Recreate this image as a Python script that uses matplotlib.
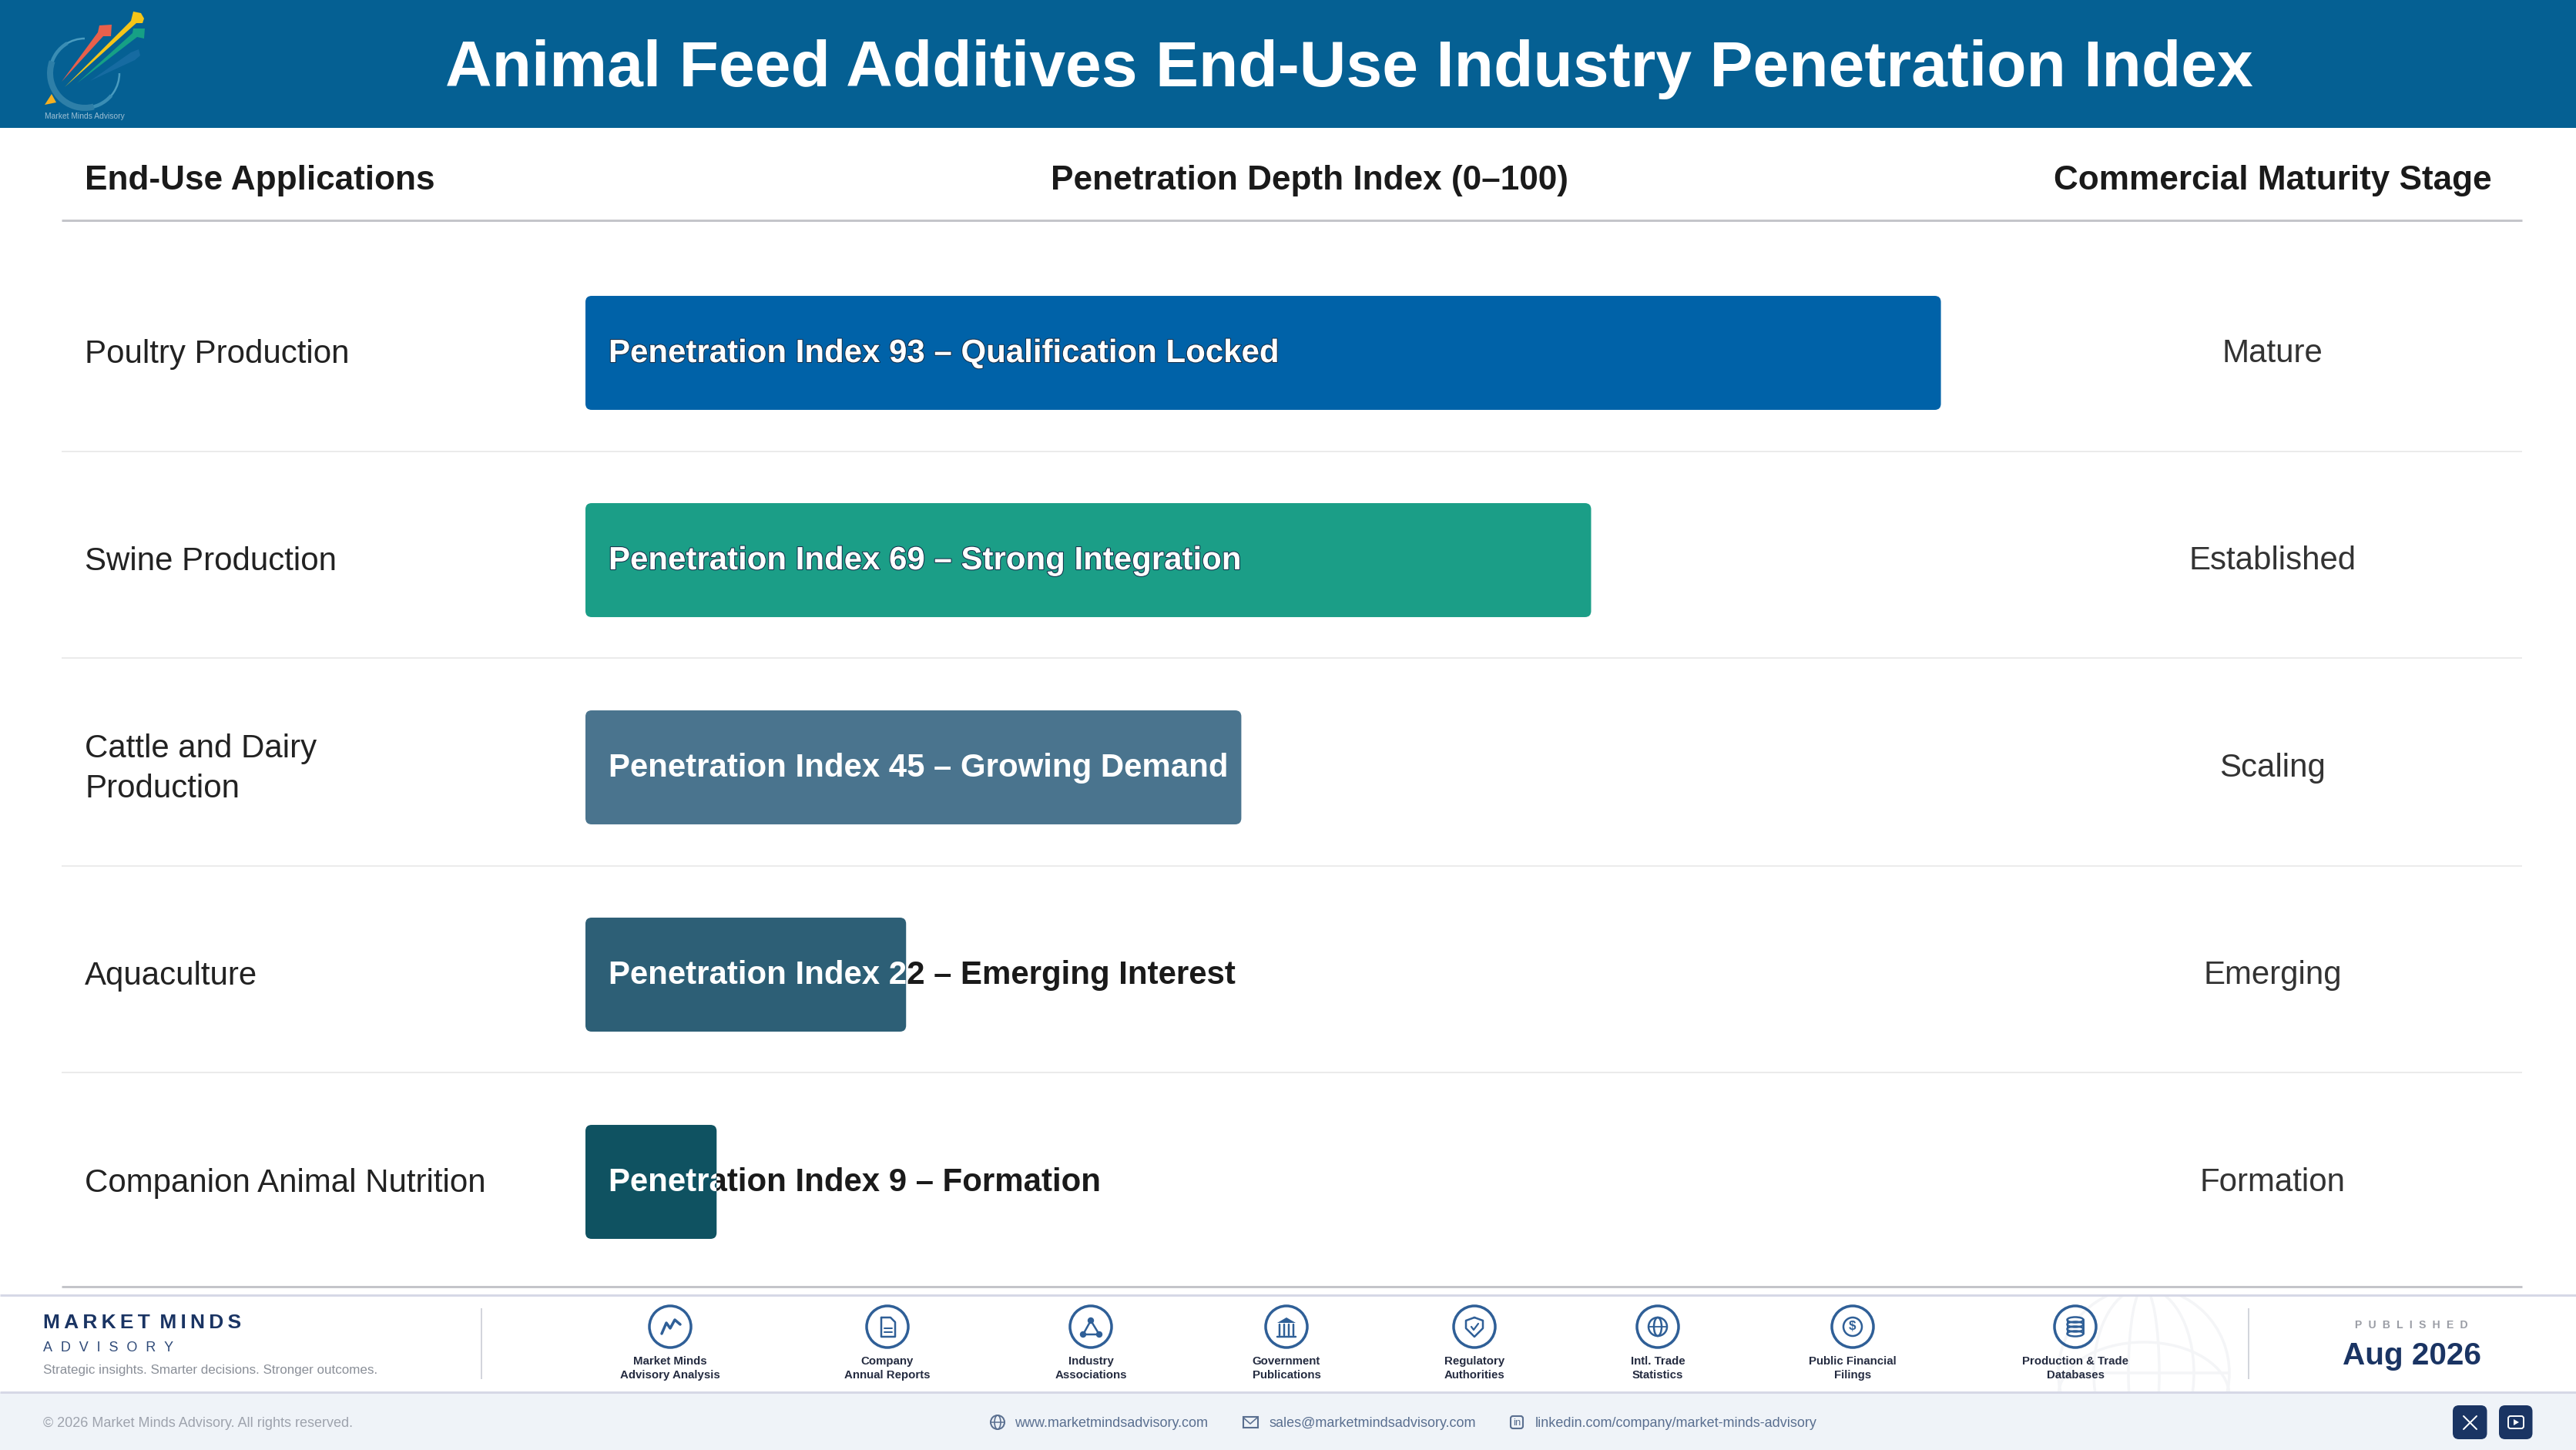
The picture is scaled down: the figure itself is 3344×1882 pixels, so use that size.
"""
Animal Feed Additives penetration index slide.
Page furniture is drawn on a full-figure axes in pixel coordinates,
the bars on their own axes with a 0-100 scale.
"""

import matplotlib
matplotlib.use("Agg")
import matplotlib.pyplot as plt
import matplotlib.patches as mpatches
import matplotlib.patheffects as pe
from matplotlib.transforms import Bbox, TransformedBbox

plt.rcParams["font.family"] = ["Liberation Sans", "DejaVu Sans"]

# ── Data ──────────────────────────────────────────────────────────────────────
APPLICATIONS = ["Poultry Production", "Swine Production", "Cattle and Dairy\nProduction",
                "Aquaculture", "Companion Animal Nutrition"]
INDEX_VALUES = [93, 69, 45, 22, 9]
INDEX_NOTES = ["Qualification Locked", "Strong Integration", "Growing Demand",
               "Emerging Interest", "Formation"]
STAGES = ["Mature", "Established", "Scaling", "Emerging", "Formation"]
BAR_COLORS = ["#0062a8", "#1b9e87", "#4a748e", "#2d5f76", "#0f5261"]

SOURCES = ["Market Minds\nAdvisory Analysis", "Company\nAnnual Reports", "Industry\nAssociations",
           "Government\nPublications", "Regulatory\nAuthorities", "Intl. Trade\nStatistics",
           "Public Financial\nFilings", "Production & Trade\nDatabases"]
SOURCE_X = [870, 1152, 1416, 1670, 1914, 2152, 2405, 2694]

W, H = 3344, 1882
NAVY = "#1a3463"
ICON = "#2f5f97"
TS = "\u2009"  # thin space, stands in for letter spacing


def px(size):
    # font size given in image pixels
    return size * 0.72


fig = plt.figure(figsize=(W / 100, H / 100), dpi=100, facecolor="white")
ax = fig.add_axes([0, 0, 1, 1])
ax.set_xlim(0, W)
ax.set_ylim(H, 0)
ax.axis("off")


def hline(y, x0, x1, color, lw):
    ax.plot([x0, x1], [y, y], color=color, lw=lw * 0.72, solid_capstyle="butt")


def vline(x, y0, y1, color, lw):
    ax.plot([x, x], [y0, y1], color=color, lw=lw * 0.72, solid_capstyle="butt")


def poly(points, color, alpha=1.0, z=3):
    ax.add_patch(mpatches.Polygon(points, closed=True, facecolor=color, edgecolor="none",
                                  alpha=alpha, zorder=z))


def stroke(points, lw=3.5, color=ICON, z=4):
    xs, ys = zip(*points)
    ax.plot(xs, ys, color=color, lw=lw * 0.72, zorder=z, solid_capstyle="round",
            solid_joinstyle="round")


def ring(cx, cy, r, lw=3.5, color=ICON, z=4):
    ax.add_patch(mpatches.Circle((cx, cy), r, fill=False, edgecolor=color, lw=lw * 0.72, zorder=z))


# ── Header band and logo ──────────────────────────────────────────────────────
ax.add_patch(mpatches.Rectangle((0, 0), W, 166, facecolor="#056093", edgecolor="none", zorder=1))
ax.text(1751, 90, "Animal Feed Additives End-Use Industry Penetration Index", ha="center",
        va="center", color="white", fontweight="bold", fontsize=px(84), zorder=5)

# circle behind the arrows, heavier on the lower left
for theta1, theta2, lw, color in ((0, 270, 2.5, "#4a9cc0"), (40, 240, 4.5, "#3a8db4"), (75, 200, 8, "#2e7fa8")):
    ax.add_patch(mpatches.Arc((110, 95), 90, 90, theta1=theta1, theta2=theta2, color=color,
                              lw=lw * 0.72, zorder=3))
poly([(117, 105), (170, 68), (180, 64), (182, 72), (175, 78)], "#1c6fa6", 0.75)
poly([(100, 108), (172, 43), (173, 37), (188, 37), (187, 50), (178, 48)], "#16a085")
poly([(84, 113), (170, 27), (173, 15), (183, 17), (187, 24), (185, 30), (177, 30)], "#f5c518")
poly([(80, 106), (127, 42), (129, 33), (145, 32), (144, 47), (134, 47)], "#e8604c")
poly([(58, 136), (73, 133), (67, 122)], "#f5b021")
ax.text(110, 151, "Market Minds Advisory", ha="center", va="center", fontsize=px(10.3),
        color="#9fc0d4", zorder=5)

# ── Column heads and rules ────────────────────────────────────────────────────
ax.text(110, 234, "End-Use Applications", va="center", fontweight="bold", fontsize=px(44.2), color="#1a1a1a")
ax.text(1700, 234, "Penetration Depth Index (0–100)", ha="center", va="center", fontweight="bold",
        fontsize=px(44.2), color="#1a1a1a")
ax.text(2950, 234, "Commercial Maturity Stage", ha="center", va="center", fontweight="bold",
        fontsize=px(44.2), color="#1a1a1a")
hline(286, 80, 3274, "#c4c5ca", 3)
for y in (586, 854, 1124, 1392):
    hline(y, 80, 3274, "#ebebeb", 2)
hline(1670, 80, 3274, "#c4c5ca", 3)

# ── Row labels ────────────────────────────────────────────────────────────────
for i, (app, stage) in enumerate(zip(APPLICATIONS, STAGES)):
    y = 458 + 269 * i
    ax.text(110, y + 2, app, va="center", fontsize=px(42), color="#222222", linespacing=1.39)
    ax.text(2950, y + 1, stage, ha="center", va="center", fontsize=px(42), color="#333333")

# ── Bars, on a 0-100 scale ────────────────────────────────────────────────────
bar_ax = fig.add_axes([760 / W, 1 - 1668.5 / H, 1892 / W, 1345 / H])
bar_ax.set_xlim(0, 100)
bar_ax.set_ylim(len(INDEX_VALUES) - 0.5, -0.5)
bar_ax.axis("off")
BAR_HEIGHT = 0.55
x_unit = 1892 / 100  # pixels per index point
y_unit = 269         # pixels per row

fig.canvas.draw()
for i, (value, note, color) in enumerate(zip(INDEX_VALUES, INDEX_NOTES, BAR_COLORS)):
    label = f"Penetration Index {value} – {note}"
    x_text = 30 / x_unit
    y_text = i + 1 / y_unit

    under = bar_ax.text(x_text, y_text, label, va="center", fontweight="bold", fontsize=px(42),
                        color="#1a1a1a", zorder=1)
    bar_end = bar_ax.transData.transform((value, i))[0]
    if under.get_window_extent().x1 <= bar_end:
        under.remove()

    bar_ax.add_patch(mpatches.FancyBboxPatch(
        (0, i - BAR_HEIGHT / 2), value, BAR_HEIGHT,
        boxstyle=f"round,pad=0,rounding_size={8 / x_unit}",
        mutation_aspect=x_unit / y_unit,
        facecolor=color, edgecolor="none", zorder=2))

    over = bar_ax.text(x_text, y_text, label, va="center", fontweight="bold", fontsize=px(42),
                       color="white", zorder=3, clip_on=True)
    over.set_clip_box(TransformedBbox(Bbox([[0, i - BAR_HEIGHT / 2], [value, i + BAR_HEIGHT / 2]]),
                                      bar_ax.transData))
    if value > 50:
        over.set_path_effects([pe.withStroke(linewidth=1.5, foreground="#16304a")])

# ── Footer ────────────────────────────────────────────────────────────────────
ax.add_patch(mpatches.Rectangle((0, 1807), W, H - 1807, facecolor="#eff3f8", edgecolor="none", zorder=1))
hline(1681, 0, W, "#d6d8e6", 3)
hline(1807, 0, W, "#d6d8e6", 3)
vline(625, 1698, 1790, "#d3d5dc", 2)
vline(2919, 1698, 1790, "#d3d5dc", 2)

# watermark globe, cut off by the footer rules
GLOBE = "#f4f5f7"
clip = mpatches.Rectangle((2500, 1683), 500, 123, transform=ax.transData)
for width, height in ((222, 222), (130, 222), (40, 222)):
    e = mpatches.Ellipse((2783, 1782), width, height, fill=False, edgecolor=GLOBE, lw=2.5, zorder=2)
    ax.add_patch(e)
    e.set_clip_path(clip)
e = mpatches.Ellipse((2783, 1812), 222, 140, fill=False, edgecolor=GLOBE, lw=2.5, zorder=2)
ax.add_patch(e)
e.set_clip_path(clip)
hline(1782, 2672, 2894, GLOBE, 3.5)

ax.text(56, 1717, TS.join("MARKET") + TS + " " + TS.join("MINDS"), va="center", fontweight="bold",
        fontsize=px(26.4), color=NAVY, zorder=5)
ax.text(56, 1749, (TS * 3).join("ADVISORY"), va="center", fontsize=px(18), color="#2f4a78", zorder=5)
ax.text(56, 1778, "Strategic insights. Smarter decisions. Stronger outcomes.", va="center",
        fontsize=px(17), color="#8a8f98", zorder=5)

for label, x in zip(SOURCES, SOURCE_X):
    ring(x, 1722, 27)
    ax.text(x, 1776, label, ha="center", va="center", fontweight="bold", fontsize=px(15),
            color="#242b40", linespacing=1.35, zorder=5)

# source icons
cy = 1722
x = SOURCE_X[0]
stroke([(x - 11, cy + 9), (x - 5, cy - 5), (x, cy + 2), (x + 6, cy - 9), (x + 13, cy - 3)])
x = SOURCE_X[1]
stroke([(x - 8, cy - 12), (x + 4, cy - 12), (x + 10, cy - 6), (x + 10, cy + 13), (x - 8, cy + 13), (x - 8, cy - 12)], 2.5)
stroke([(x - 4, cy + 2), (x + 6, cy + 2)], 2)
stroke([(x - 4, cy + 7), (x + 6, cy + 7)], 2)
x = SOURCE_X[2]
stroke([(x, cy - 8), (x - 10, cy + 10), (x + 11, cy + 10), (x, cy - 8)], 2.5)
for dx, dy in ((0, -8), (-10, 10), (11, 10)):
    ax.add_patch(mpatches.Circle((x + dx, cy + dy), 3.5, color=ICON, zorder=5))
x = SOURCE_X[3]
poly([(x - 12, cy - 5), (x, cy - 12), (x + 12, cy - 5)], ICON, z=5)
for dx in (-9, -3, 3, 9):
    stroke([(dx + x, cy - 3), (dx + x, cy + 11)], 2.5)
stroke([(x - 12, cy + 13), (x + 12, cy + 13)], 2.5)
x = SOURCE_X[4]
stroke([(x, cy - 12), (x + 11, cy - 8), (x + 11, cy + 2), (x, cy + 13), (x - 11, cy + 2), (x - 11, cy - 8), (x, cy - 12)], 2.5)
stroke([(x - 4, cy), (x - 1, cy + 4), (x + 5, cy - 4)], 2.2)
x = SOURCE_X[5]
ring(x, cy, 12, 2.5)
ax.add_patch(mpatches.Ellipse((x, cy), 10, 24, fill=False, edgecolor=ICON, lw=1.8, zorder=4))
stroke([(x - 12, cy), (x + 12, cy)], 1.8)
x = SOURCE_X[6]
ring(x, cy, 12, 2.5)
ax.text(x, cy, "$", ha="center", va="center", fontsize=px(17), color=ICON, zorder=5, fontweight="bold")
x = SOURCE_X[7]
for dy in (-9, -3, 3, 9):
    ax.add_patch(mpatches.Ellipse((x, cy + dy), 21, 7, fill=False, edgecolor=ICON, lw=1.8, zorder=4))
stroke([(x - 10.5, cy - 9), (x - 10.5, cy + 9)], 2)
stroke([(x + 10.5, cy - 9), (x + 10.5, cy + 9)], 2)

ax.text(3130, 1720, (TS * 3).join("PUBLISHED"), ha="center", va="center", fontweight="bold",
        fontsize=px(14), color="#9a9da5", zorder=5)
ax.text(3131, 1760, "Aug 2026", ha="center", va="center", fontweight="bold", fontsize=px(40.5),
        color=NAVY, zorder=5)

# contact strip
ax.text(56, 1848, "© 2026 Market Minds Advisory. All rights reserved.", va="center", fontsize=px(18),
        color="#9ea3ad", zorder=5)
LINK = "#5a6f90"
ax.text(1317, 1848, "www.marketmindsadvisory.com", va="center", fontsize=px(18), color=LINK, zorder=5)
ax.text(1647, 1848, "sales@marketmindsadvisory.com", va="center", fontsize=px(18), color=LINK, zorder=5)
ax.text(1993, 1848, "linkedin.com/company/market-minds-advisory", va="center", fontsize=px(18), color=LINK, zorder=5)

ring(1295, 1846, 9, 2, LINK)
ax.add_patch(mpatches.Ellipse((1295, 1846), 8, 18, fill=False, edgecolor=LINK, lw=1.2, zorder=4))
stroke([(1286, 1846), (1304, 1846)], 1.5, LINK)
ax.add_patch(mpatches.Rectangle((1613.5, 1839), 19, 14, fill=False, edgecolor=LINK, lw=1.5, zorder=4))
stroke([(1614, 1840), (1623, 1848), (1632, 1840)], 1.6, LINK)
ax.add_patch(mpatches.FancyBboxPatch((1961, 1838), 16, 16, boxstyle="round,pad=0,rounding_size=3",
                                     fill=False, edgecolor=LINK, lw=1.5, zorder=4))
ax.text(1969, 1847, "in", ha="center", va="center", fontsize=px(13), color=LINK, zorder=5)

for x0, x1 in ((3184, 3228.5), (3244, 3287.5)):
    ax.add_patch(mpatches.FancyBboxPatch((x0, 1824), x1 - x0, 44, boxstyle="round,pad=0,rounding_size=8",
                                         facecolor=NAVY, edgecolor="none", zorder=4))
stroke([(3198, 1838), (3215, 1855)], 2, "white", 5)
stroke([(3215, 1838), (3198, 1855)], 2, "white", 5)
ax.add_patch(mpatches.FancyBboxPatch((3256, 1838), 20, 16, boxstyle="round,pad=0,rounding_size=3",
                                     fill=False, edgecolor="white", lw=1.4, zorder=5))
poly([(3263, 1842), (3263, 1850), (3270, 1846)], "white", z=5)

fig.savefig("out.png", dpi=100, facecolor="white")
